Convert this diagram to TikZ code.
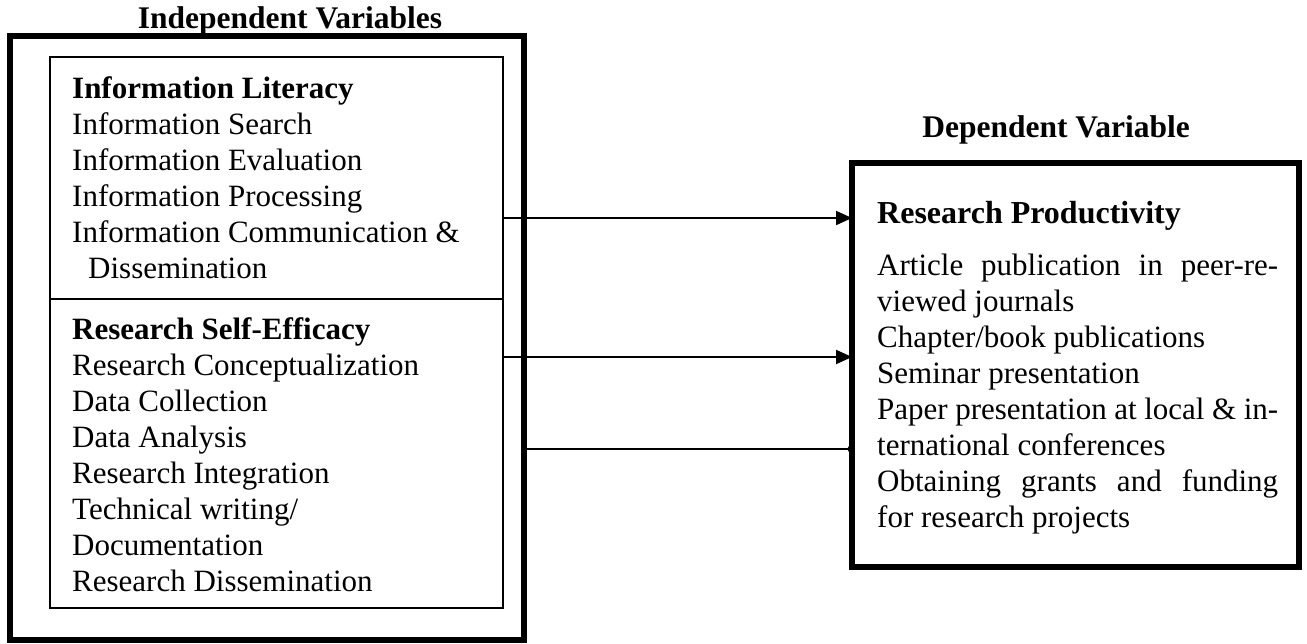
\documentclass[tikz,border=0pt]{standalone}
\usepackage{fontspec}
\setmainfont{Liberation Serif}
\usetikzlibrary{arrows.meta}
\tikzset{
  frame/.style={draw, rectangle, anchor=north west, inner sep=0pt, outer sep=0pt},
  thickframe/.style={frame, line width=6pt},
  thinframe/.style={frame, line width=2pt},
  txt/.style={anchor=base west, inner sep=0pt, font=\fontsize{31}{36}\selectfont},
  bold/.style={txt, font=\fontsize{31}{36}\selectfont\bfseries},
  title/.style={anchor=base, inner sep=0pt, font=\fontsize{31.5}{36}\selectfont\bfseries},
  arr/.style={line width=2pt, -{Triangle[length=16pt,width=14pt]}},
  arrsmall/.style={line width=2pt, -{Triangle[length=4pt,width=5pt]}}
}
\begin{document}
\begin{tikzpicture}[x=1pt,y=-1pt]
\useasboundingbox (0,0) rectangle (1307,643);
% boxes
\node[thickframe, minimum width=514pt, minimum height=604pt] (indep) at (10,36) {};
\node[thinframe, minimum width=453pt, minimum height=242pt] (il) at (50,57) {};
\node[thinframe, minimum width=453pt, minimum height=309pt] (rse) at (50,299) {};
\node[thickframe, minimum width=447pt, minimum height=404pt] (dep) at (852,163) {};
% titles
\node[title] (tindep) at (290,28) {Independent Variables};
\node[title] (tdep) at (1056,137) {Dependent Variable};
% information literacy
\node[bold] (ilh) at (72,98) {Information Literacy};
\foreach \t [count=\i] in {Information Search, Information Evaluation, Information Processing, Information Communication \&}
  \node[txt] (il\i) at (72,98+36*\i) {\t};
\node[txt] (il5) at (88,278) {Dissemination};
% research self-efficacy
\node[bold] (rseh) at (72,339) {Research Self-Efficacy};
\foreach \t [count=\i] in {Research Conceptualization, Data Collection, Data Analysis, Research Integration, Technical writing/, Documentation, Research Dissemination}
  \node[txt] (rse\i) at (72,339+36*\i) {\t};
% research productivity
\node[txt, font=\fontsize{32}{36}\selectfont\bfseries] (rph) at (877,223) {Research Productivity};
\node[txt] (rp1) at (877,275) {\makebox[401pt][s]{Article publication in peer-re-}};
\node[txt] (rp2) at (877,311) {viewed journals};
\node[txt] (rp3) at (877,347) {Chapter/book publications};
\node[txt] (rp4) at (877,383) {Seminar presentation};
\node[txt] (rp5) at (877,419) {\makebox[401pt][s]{Paper presentation at local \& in-}};
\node[txt] (rp6) at (877,455) {ternational conferences};
\node[txt] (rp7) at (877,491) {\makebox[401pt][s]{Obtaining grants and funding}};
\node[txt] (rp8) at (877,527) {for research projects};
% arrows
\coordinate (a1) at (il.east |- 0,218);
\coordinate (a2) at (rse.east |- 0,357);
\coordinate (a3) at (indep.east |- 0,449);
\draw[arr] (a1) -- (dep.west |- a1);
\draw[arr] (a2) -- (dep.west |- a2);
\draw[arrsmall] ([xshift=3pt]a3) -- (dep.west |- a3);
\end{tikzpicture}
\end{document}
